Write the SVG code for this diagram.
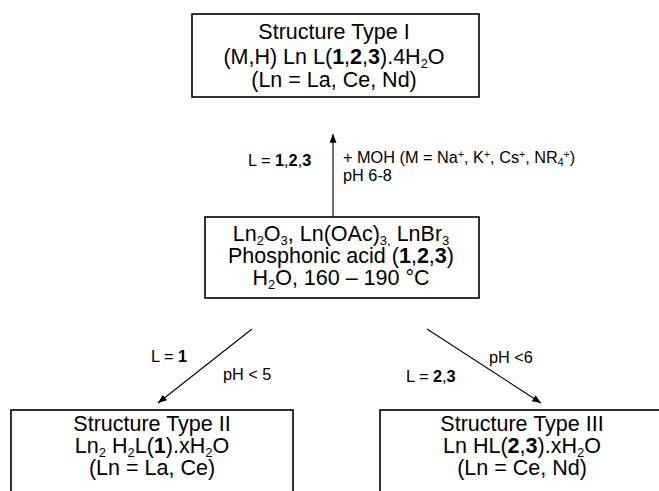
<svg xmlns="http://www.w3.org/2000/svg" width="659" height="491" viewBox="0 0 659 491">
<style>
.box{fill:#fff;stroke:#000;stroke-width:1.6}
.t{font-family:"Liberation Sans",Arial,sans-serif;font-size:21.5px;fill:#000;text-anchor:middle}
.l{font-family:"Liberation Sans",Arial,sans-serif;font-size:16.3px;fill:#000}
.b{font-weight:bold}
.s{font-size:13px;baseline-shift:-4px}
.sup{font-size:10.5px;baseline-shift:5px}
.sub{font-size:10.5px;baseline-shift:-3px}
.c{stroke:#000;stroke-width:1.1;fill:none}
</style>
<defs>
<marker id="ah" viewBox="0 0 10 8" refX="10" refY="4" markerWidth="9" markerHeight="7" markerUnits="userSpaceOnUse" orient="auto">
<path d="M0,0 L10,4 L0,8 Z" fill="#000"/>
</marker>
</defs>
<rect width="659" height="491" fill="#fff"/>
<g id="connectors">
<line class="c" x1="333" y1="217" x2="333" y2="134" marker-end="url(#ah)"/>
<line class="c" x1="252" y1="329" x2="158" y2="403" marker-end="url(#ah)"/>
<line class="c" x1="427" y1="329" x2="541" y2="403" marker-end="url(#ah)"/>
</g>
<g id="labels">
<text class="l" x="248" y="166">L = <tspan class="b">1</tspan>,<tspan class="b">2</tspan>,<tspan class="b">3</tspan></text>
<text class="l" x="343" y="163">+ MOH (M = Na<tspan class="sup">+</tspan>, K<tspan class="sup">+</tspan>, Cs<tspan class="sup">+</tspan>, NR<tspan class="sub">4</tspan><tspan class="sup">+</tspan>)</text>
<text class="l" x="343" y="181">pH 6-8</text>
<text class="l" x="151" y="362">L = <tspan class="b">1</tspan></text>
<text class="l" x="223" y="380">pH &lt; 5</text>
<text class="l" x="489" y="363">pH &lt;6</text>
<text class="l" x="406" y="382">L = <tspan class="b">2</tspan>,<tspan class="b">3</tspan></text>
</g>
<g id="node-type1">
<rect class="box" x="192" y="14" width="287" height="83"/>
<text class="t" x="334" y="39">Structure Type I</text>
<text class="t" x="334" y="64">(M,H) Ln L(<tspan class="b">1</tspan>,<tspan class="b">2</tspan>,<tspan class="b">3</tspan>).4H<tspan class="s">2</tspan>O</text>
<text class="t" x="334" y="87">(Ln = La, Ce, Nd)</text>
</g>
<g id="node-start">
<rect class="box" x="205" y="217" width="274" height="81"/>
<text class="t" x="341" y="241">Ln<tspan class="s">2</tspan>O<tspan class="s">3</tspan>, Ln(OAc)<tspan class="s">3,</tspan> LnBr<tspan class="s">3</tspan></text>
<text class="t" x="341" y="263">Phosphonic acid (<tspan class="b">1</tspan>,<tspan class="b">2</tspan>,<tspan class="b">3</tspan>)</text>
<text class="t" x="341" y="285">H<tspan class="s">2</tspan>O, 160 – 190 °C</text>
</g>
<g id="node-type2">
<rect class="box" x="11" y="410" width="282" height="100"/>
<text class="t" x="152" y="431">Structure Type II</text>
<text class="t" x="152" y="453">Ln<tspan class="s">2</tspan> H<tspan class="s">2</tspan>L(<tspan class="b">1</tspan>).xH<tspan class="s">2</tspan>O</text>
<text class="t" x="152" y="475">(Ln = La, Ce)</text>
</g>
<g id="node-type3">
<rect class="box" x="380" y="410" width="300" height="100"/>
<text class="t" x="522" y="431">Structure Type III</text>
<text class="t" x="522" y="453">Ln HL(<tspan class="b">2</tspan>,<tspan class="b">3</tspan>).xH<tspan class="s">2</tspan>O</text>
<text class="t" x="522" y="475">(Ln = Ce, Nd)</text>
</g>
</svg>
